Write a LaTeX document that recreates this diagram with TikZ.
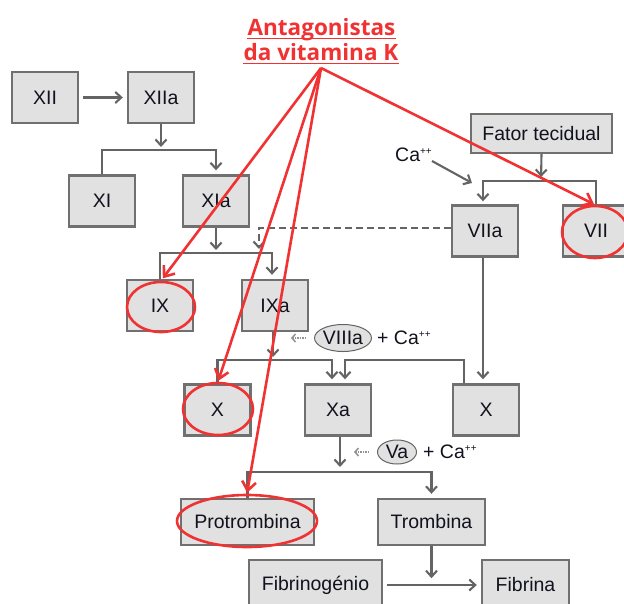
\documentclass[tikz,border=0pt]{standalone}
\usepackage{fontspec}
\setmainfont{Liberation Sans}
\newfontfamily\titlefont{Open Sans}
\usetikzlibrary{arrows.meta,shapes.geometric}
\definecolor{boxfill}{RGB}{225,225,225}
\definecolor{boxline}{RGB}{112,112,112}
\definecolor{arrgray}{RGB}{100,100,100}
\definecolor{ink}{RGB}{18,18,30}
\definecolor{vkred}{RGB}{240,50,50}
\newcommand\caion{Ca\raisebox{7pt}{\fontsize{10}{10}\selectfont ++}}
\tikzset{
  factor/.style={draw=boxline, fill=boxfill, line width=2.4pt, minimum width=66pt,
    minimum height=51pt, inner sep=0pt, text=ink, font=\fontsize{19.5}{22}\selectfont},
  flow/.style={draw=arrgray, line width=2.1pt, -{Straight Barb[length=6pt,width=11pt]}},
  dotflow/.style={draw=arrgray!70, line width=1.5pt, densely dotted,
    -{Straight Barb[length=3.5pt,width=8pt]}},
  cofactor/.style={ellipse, draw=arrgray, fill=boxfill, line width=1pt, inner sep=0pt,
    text=ink, font=\fontsize{19.5}{22}\selectfont},
  ion/.style={inner sep=0pt, text=ink, font=\fontsize{19.5}{22}\selectfont},
  ring/.style={ellipse, draw=vkred, line width=2.6pt, inner sep=0pt},
  vkarrow/.style={draw=vkred, line width=2.6pt, -{Straight Barb[length=9pt,width=14pt]}},
  vktitle/.style={inner sep=0pt, text=vkred, font=\titlefont\bfseries\fontsize{22.5}{26}\selectfont}
}
\begin{document}
\begin{tikzpicture}[x=1pt,y=-1pt]
\useasboundingbox (0,0) rectangle (624,603);
\clip (0,0) rectangle (624,603);

% factors
\node[factor] (XII)  at (45,97.5)  {XII};
\node[factor] (XIIa) at (161,97.5) {XIIa};
\node[factor] (XI)   at (102,201)  {XI};
\node[factor] (XIa)  at (216,201)  {XIa};
\node[factor] (IX)   at (160,305.5) {IX};
\node[factor] (IXa)  at (275,305.5) {IXa};
\node[factor] (Xl)   at (217.5,410) {X};
\node[factor] (Xa)   at (338,410)  {Xa};
\node[factor] (Xr)   at (486,410)  {X};
\node[factor] (VIIa) at (485,231)  {VIIa};
\node[factor] (VII)  at (596,231)  {VII};
\node[factor, minimum width=141pt, minimum height=39pt] (FT) at (541.5,133.5) {Fator tecidual};
\node[factor, minimum width=133pt, minimum height=46pt] (Pro) at (247.5,522) {Protrombina};
\node[factor, minimum width=107pt, minimum height=46pt] (Tro) at (431.5,522) {Trombina};
\node[factor, minimum width=133pt, minimum height=50pt] (Fibg) at (315.5,585) {Fibrinogénio};
\node[factor, minimum width=87pt, minimum height=50pt] (Fibr) at (525.5,585) {Fibrina};

% cofactors
\node[cofactor, minimum width=57pt, minimum height=27pt] (C8) at (343,338) {VIIIa};
\node[ion, anchor=west] (C8ca) at ([xshift=5pt]C8.east) {+ \caion};
\node[cofactor, minimum width=39pt, minimum height=24pt] (C5) at (397,452) {Va};
\node[ion, anchor=west] (C5ca) at ([xshift=6pt]C5.east) {+ \caion};
\node[ion, anchor=west] (ca) at (395,155) {\caion};

% junction points
\coordinate (j1) at (161,150);
\coordinate (j2) at (216,253);
\coordinate (j3) at (273,360);
\coordinate (j4) at (541,181);
\coordinate (j5) at (340,472);
\coordinate (dashEnd) at (259,250);
\coordinate (caFrom) at (432,161);
\coordinate (caTip) at (472,183);

% intrinsic pathway
\draw[flow, shorten <=4pt, shorten >=4pt] (XII) -- (XIIa);
\draw[flow, shorten >=3pt] (XIIa.south) -- (j1);
\draw[flow, shorten >=4pt] (XI.north) |- (j1) -| (XIa.north);
\draw[flow, shorten >=3pt] (XIa.south) -- (j2);
\draw[flow, shorten >=4pt] (IX.north) |- (j2) -| ([xshift=-3pt]IXa.north);
\draw[flow, dash pattern=on 7pt off 4pt, shorten >=1pt] ([yshift=3pt]VIIa.west) -| (dashEnd);
\draw[flow, shorten >=3pt] ([xshift=-2pt]IXa.south) -- (j3);
\draw[flow, shorten >=4pt] (Xl.north) |- ([xshift=-6pt]Xa.north |- j3) -- ([xshift=-6pt]Xa.north);
\draw[flow, shorten >=4pt] ([xshift=-22pt]Xr.north) |- ([xshift=7pt]Xa.north |- j3) -- ([xshift=7pt]Xa.north);
\draw[dotflow] ([xshift=-8pt]C8.west) -- ([xshift=-23pt]C8.west);

% extrinsic pathway
\draw[flow, shorten >=4pt] (FT.south) -- (j4);
\draw[flow, shorten >=3pt] (VII.north) |- (j4) -| ([xshift=-2pt]VIIa.north);
\draw[flow] (caFrom) -- (caTip);
\draw[flow, shorten >=4pt] ([xshift=-2pt]VIIa.south) -- ([xshift=-2pt]VIIa.south |- Xr.north);

% common pathway
\draw[flow, shorten >=5pt] ([xshift=2pt]Xa.south) -- (j5);
\draw[dotflow] ([xshift=-8pt]C5.west) -- ([xshift=-23pt]C5.west);
\draw[flow, shorten >=4pt] (Pro.north) |- (j5) -| (Tro.north);
\draw[flow] (Tro.south) -- ([yshift=-32pt]Tro.south);
\draw[flow, shorten <=4pt, shorten >=4pt] (Fibg) -- (Fibr);

% vitamin K antagonist targets
\node[ring, minimum width=68pt, minimum height=50pt] (rIX) at (161,307) {};
\node[ring, minimum width=70pt, minimum height=52pt] (rX) at (218,409) {};
\node[ring, minimum width=140pt, minimum height=52pt] (rPro) at (247,521) {};
\node[ring, minimum width=66pt, minimum height=52pt] (rVII) at (595,232) {};

\coordinate (vk) at (321,68);
\draw[vkarrow, shorten >=3pt] (vk) -- (rIX.north);
\draw[vkarrow, shorten >=1pt] (vk) -- (rX.north);
\draw[vkarrow, shorten >=1pt] (vk) -- (rPro.north);
\draw[vkarrow, shorten >=1pt] (vk) -- (rVII.north);

% title
\node[vktitle, anchor=base] (t1) at (321.5,35) {Antagonistas};
\node[vktitle, anchor=base] (t2) at (321,60) {da vitamina K};
\draw[vkred, line width=1.6pt] ([yshift=-3.5pt]t1.base west) -- ([yshift=-3.5pt]t1.base east);
\draw[vkred, line width=1.6pt] ([yshift=-3.5pt]t2.base west) -- ([yshift=-3.5pt]t2.base east);
\end{tikzpicture}
\end{document}
